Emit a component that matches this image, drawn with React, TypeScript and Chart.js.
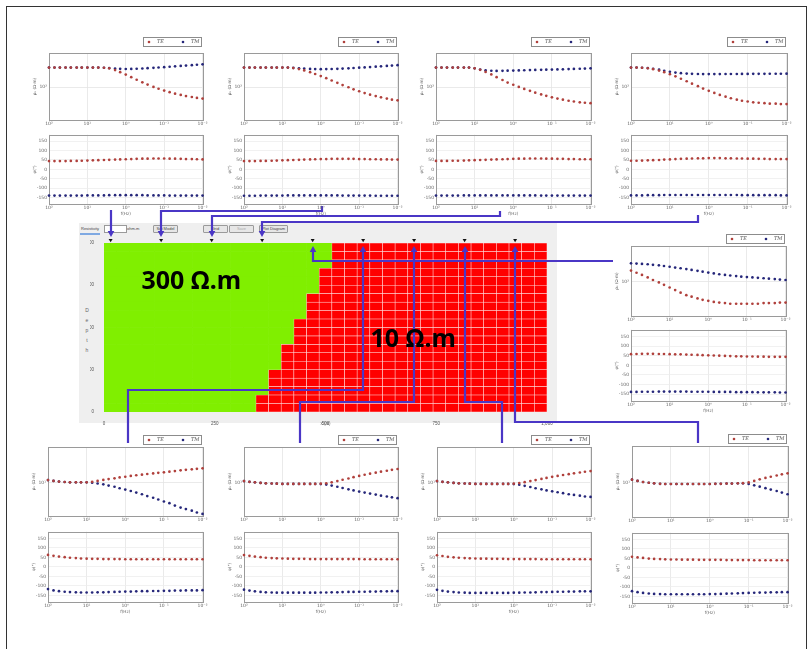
import React, { useEffect, useRef } from 'react';
import { Chart, registerables } from 'chart.js';

Chart.register(...registerables);

// ---------------- data ----------------
const FREQS = [100, 72, 52, 37, 27, 19, 14, 10, 7.2, 5.2, 3.7, 2.7, 1.9, 1.4, 1, 0.72, 0.52, 0.37, 0.27, 0.19, 0.14, 0.1, 0.072, 0.052, 0.037, 0.027, 0.019, 0.014, 0.01];
const FREQ_TICKS = [100, 10, 1, 0.1, 0.01];
const PHASE_TICKS = [-150, -100, -50, 0, 50, 100, 150];
const TOP_RHO_TICKS = [100];
const BOTTOM_RHO_TICKS = [10];

// station positions along the profile (m)
const STATIONS = [15, 129, 243, 357, 471, 585, 700, 814, 928];
const MODEL_X_TICKS = [0, 250, 500, 750, 1000];
const MODEL_Y_TICKS = [0, 1000, 2000, 3000, 4000];
const COLUMN_IDS = [1, 2, 3, 4, 5, 6, 7, 8, 9, 10, 11, 12, 13, 14, 15, 16, 17, 18, 19, 20, 21, 22, 23, 24, 25, 26, 27, 28, 29, 30, 31, 32, 33, 34, 35];
const ROW_THICKNESS = 200;
// number of 300 ohm-m columns in each model row, from the top row down
const GREEN_COLUMNS_BY_ROW = [18, 18, 18, 17, 17, 17, 16, 16, 16, 15, 15, 15, 14, 14, 14, 13, 13, 13, 12, 12];
const BLOCK_RES = 300;
const HOST_RES = 10;

// station 1 (top-left panel)
const P1_RHO_TE = [300, 300, 300, 300, 300, 300, 300, 300, 300, 300, 298, 288, 262, 232, 203, 176, 152, 132, 116, 102, 92, 83, 76, 70, 65, 61, 58, 55, 53];
const P1_RHO_TM = [300, 300, 300, 300, 300, 300, 300, 300, 300, 300, 298, 292, 285, 280, 278, 279, 282, 286, 291, 296, 302, 308, 315, 322, 329, 336, 344, 352, 360];
const P1_PHI_TE = [44, 44, 44, 44, 45, 45, 46, 47, 48, 49, 50, 51, 52, 53, 54, 55, 56, 57, 57, 58, 58, 58, 57, 57, 56, 55, 55, 54, 53];
const P1_PHI_TM = [-140, -140, -140, -140, -140, -140, -140, -139, -139, -139, -139, -138, -138, -138, -138, -138, -138, -138, -139, -139, -139, -139, -140, -140, -140, -140, -140, -140, -140];
// station 2
const P2_RHO_TE = [300, 300, 300, 300, 300, 300, 300, 300, 300, 292, 276, 256, 233, 210, 187, 166, 146, 128, 113, 100, 89, 80, 72, 66, 61, 57, 53, 50, 48];
const P2_RHO_TM = [300, 300, 300, 300, 300, 300, 300, 300, 300, 296, 290, 284, 279, 276, 275, 276, 278, 281, 285, 289, 294, 299, 304, 310, 316, 322, 329, 336, 344];
const P2_PHI_TE = [44, 44, 44, 45, 45, 46, 47, 48, 49, 50, 51, 52, 53, 54, 55, 55, 56, 56, 56, 56, 56, 55, 55, 54, 54, 53, 53, 52, 52];
const P2_PHI_TM = [-141, -141, -141, -140, -140, -140, -140, -140, -139, -139, -139, -139, -139, -139, -139, -139, -139, -139, -140, -140, -140, -140, -140, -140, -141, -141, -141, -141, -141];
// station 3
const P3_RHO_TE = [300, 300, 300, 300, 300, 300, 300, 288, 265, 236, 205, 176, 150, 130, 115, 102, 91, 82, 74, 67, 62, 57, 53, 50, 47, 45, 43, 42, 41];
const P3_RHO_TM = [300, 300, 300, 300, 300, 300, 300, 288, 270, 258, 252, 250, 251, 253, 255, 257, 259, 261, 263, 265, 267, 269, 271, 273, 276, 279, 282, 285, 288];
const P3_PHI_TE = [45, 45, 45, 46, 46, 47, 48, 49, 50, 51, 52, 53, 54, 55, 56, 57, 57, 58, 58, 58, 57, 57, 56, 56, 55, 55, 54, 54, 54];
const P3_PHI_TM = [-140, -140, -140, -140, -140, -139, -139, -139, -139, -139, -139, -139, -139, -139, -139, -139, -139, -139, -139, -140, -140, -140, -140, -140, -140, -140, -140, -140, -140];
// station 4
const P4_RHO_TE = [300, 300, 298, 290, 275, 255, 232, 208, 184, 161, 140, 122, 106, 93, 82, 73, 65, 59, 54, 50, 47, 45, 43, 42, 41, 40, 40, 39, 39];
const P4_RHO_TM = [300, 300, 298, 292, 282, 268, 252, 238, 228, 220, 215, 212, 210, 209, 209, 209, 209, 210, 210, 210, 211, 211, 212, 212, 212, 213, 213, 213, 214];
const P4_PHI_TE = [46, 46, 47, 48, 49, 50, 52, 53, 55, 56, 57, 58, 59, 59, 60, 60, 60, 59, 59, 58, 58, 57, 57, 56, 56, 55, 55, 55, 55];
const P4_PHI_TM = [-139, -139, -139, -138, -138, -138, -137, -137, -137, -137, -137, -137, -137, -137, -137, -137, -137, -137, -137, -137, -138, -138, -138, -138, -138, -138, -138, -139, -139];
// station 5 (right panel)
const P5_RHO_TE = [194, 171, 150, 129, 111, 96, 83, 71, 61, 52, 45, 41, 37, 34, 32, 30, 29, 28, 27, 27, 27, 27, 27, 27, 28, 28, 28, 29, 29];
const P5_RHO_TM = [300, 295, 289, 283, 274, 265, 255, 244, 233, 223, 212, 202, 192, 182, 173, 164, 156, 150, 145, 140, 135, 132, 129, 126, 123, 120, 117, 114, 111];
const P5_PHI_TE = [58, 59, 60, 60, 60, 59, 59, 58, 57, 57, 56, 55, 54, 53, 52, 51, 50, 49, 48, 47, 47, 46, 46, 45, 45, 44, 44, 44, 44];
const P5_PHI_TM = [-138, -138, -137, -137, -137, -136, -136, -136, -136, -136, -136, -137, -137, -137, -137, -138, -138, -138, -138, -139, -139, -139, -139, -140, -140, -140, -140, -141, -141];
// station 6 (bottom-left panel)
const P6_RHO_TE = [11.3, 10.8, 10.4, 10.2, 10.0, 10.0, 10.0, 10.0, 10.3, 10.8, 11.4, 11.9, 12.4, 13.0, 13.5, 14.1, 14.6, 15.1, 15.6, 16.1, 16.6, 17.1, 17.7, 18.3, 19.0, 19.5, 20.1, 20.6, 21.2];
const P6_RHO_TM = [11.3, 10.8, 10.4, 10.2, 10.0, 10.0, 10.0, 10.0, 9.8, 9.4, 9.0, 8.4, 7.9, 7.3, 6.8, 6.3, 5.8, 5.3, 4.8, 4.4, 4.0, 3.6, 3.3, 2.9, 2.6, 2.4, 2.2, 2.0, 1.85];
const P6_PHI_TE = [63, 58, 54, 51, 48, 46, 44, 43, 42, 42, 41, 41, 41, 41, 40, 40, 40, 40, 40, 40, 40, 40, 40, 40, 40, 40, 40, 40, 40];
const P6_PHI_TM = [-117, -124, -128, -131, -133, -134, -135, -135, -135, -134, -134, -133, -132, -131, -130, -130, -129, -128, -128, -127, -127, -126, -126, -125, -125, -124, -124, -124, -123];
// station 7
const P7_RHO_TE = [10.7, 10.3, 10.0, 9.7, 9.5, 9.4, 9.3, 9.2, 9.2, 9.2, 9.2, 9.2, 9.2, 9.2, 9.3, 9.5, 10.0, 10.7, 11.5, 12.3, 13.2, 14.1, 15.0, 15.9, 16.8, 17.7, 18.6, 19.5, 20.4];
const P7_RHO_TM = [10.7, 10.3, 10.0, 9.7, 9.5, 9.4, 9.3, 9.2, 9.2, 9.2, 9.2, 9.2, 9.2, 9.2, 9.1, 8.9, 8.4, 7.9, 7.4, 6.9, 6.5, 6.1, 5.8, 5.5, 5.2, 4.9, 4.7, 4.5, 4.3];
const P7_PHI_TE = [62, 58, 54, 51, 48, 46, 45, 44, 43, 42, 42, 42, 41, 41, 41, 41, 41, 41, 41, 41, 41, 41, 40, 40, 40, 40, 40, 40, 40];
const P7_PHI_TM = [-120, -125, -129, -132, -134, -135, -136, -136, -136, -136, -136, -136, -136, -136, -135, -135, -134, -134, -133, -132, -132, -131, -131, -130, -130, -129, -129, -128, -128];
// station 8
const P8_RHO_TE = [10.7, 10.3, 10.0, 9.7, 9.5, 9.4, 9.3, 9.2, 9.2, 9.2, 9.2, 9.2, 9.2, 9.2, 9.3, 9.6, 10.1, 10.7, 11.3, 12.0, 12.7, 13.4, 14.1, 14.8, 15.5, 16.2, 16.9, 17.6, 18.3];
const P8_RHO_TM = [10.7, 10.3, 10.0, 9.7, 9.5, 9.4, 9.3, 9.2, 9.2, 9.2, 9.2, 9.2, 9.2, 9.2, 9.1, 8.8, 8.3, 7.8, 7.3, 6.9, 6.5, 6.2, 5.9, 5.6, 5.3, 5.1, 4.9, 4.7, 4.6];
const P8_PHI_TE = [61, 57, 53, 50, 48, 46, 45, 44, 43, 43, 42, 42, 42, 41, 41, 41, 41, 41, 41, 40, 40, 40, 40, 40, 40, 40, 40, 40, 40];
const P8_PHI_TM = [-121, -126, -130, -133, -135, -136, -137, -137, -137, -137, -137, -137, -137, -137, -136, -136, -135, -135, -134, -133, -133, -132, -131, -131, -130, -130, -129, -129, -129];
// station 9 (bottom-right panel)
const P9_RHO_TE = [11.5, 10.8, 10.2, 9.8, 9.5, 9.3, 9.2, 9.2, 9.2, 9.2, 9.2, 9.2, 9.2, 9.2, 9.2, 9.3, 9.3, 9.4, 9.4, 9.5, 9.6, 10.0, 10.8, 11.7, 12.6, 13.4, 14.3, 15.2, 16.0];
const P9_RHO_TM = [11.5, 10.8, 10.2, 9.8, 9.5, 9.3, 9.2, 9.2, 9.2, 9.2, 9.2, 9.2, 9.2, 9.2, 9.2, 9.3, 9.3, 9.4, 9.4, 9.5, 9.5, 9.2, 8.6, 8.0, 7.4, 6.9, 6.4, 5.9, 5.4];
const P9_PHI_TE = [58, 55, 52, 49, 47, 46, 45, 44, 44, 43, 43, 43, 42, 42, 42, 42, 42, 41, 41, 41, 41, 41, 40, 40, 40, 40, 40, 40, 40];
const P9_PHI_TM = [-123, -128, -132, -135, -137, -138, -139, -139, -139, -139, -139, -139, -139, -139, -138, -138, -137, -136, -135, -134, -133, -132, -131, -130, -130, -129, -129, -128, -128];

const TOP_RHO_RANGE = [16, 680];
const RIGHT_RHO_RANGE = [13, 840];
const BOTTOM_RHO_RANGE = [1.66, 66];
const PHASE_RANGE = [-185, 185];

const PANELS = [
  { rhoTE: P1_RHO_TE, rhoTM: P1_RHO_TM, phiTE: P1_PHI_TE, phiTM: P1_PHI_TM, range: TOP_RHO_RANGE, ticks: TOP_RHO_TICKS },
  { rhoTE: P2_RHO_TE, rhoTM: P2_RHO_TM, phiTE: P2_PHI_TE, phiTM: P2_PHI_TM, range: TOP_RHO_RANGE, ticks: TOP_RHO_TICKS },
  { rhoTE: P3_RHO_TE, rhoTM: P3_RHO_TM, phiTE: P3_PHI_TE, phiTM: P3_PHI_TM, range: TOP_RHO_RANGE, ticks: TOP_RHO_TICKS },
  { rhoTE: P4_RHO_TE, rhoTM: P4_RHO_TM, phiTE: P4_PHI_TE, phiTM: P4_PHI_TM, range: TOP_RHO_RANGE, ticks: TOP_RHO_TICKS },
  { rhoTE: P5_RHO_TE, rhoTM: P5_RHO_TM, phiTE: P5_PHI_TE, phiTM: P5_PHI_TM, range: RIGHT_RHO_RANGE, ticks: TOP_RHO_TICKS },
  { rhoTE: P6_RHO_TE, rhoTM: P6_RHO_TM, phiTE: P6_PHI_TE, phiTM: P6_PHI_TM, range: BOTTOM_RHO_RANGE, ticks: BOTTOM_RHO_TICKS },
  { rhoTE: P7_RHO_TE, rhoTM: P7_RHO_TM, phiTE: P7_PHI_TE, phiTM: P7_PHI_TM, range: BOTTOM_RHO_RANGE, ticks: BOTTOM_RHO_TICKS },
  { rhoTE: P8_RHO_TE, rhoTM: P8_RHO_TM, phiTE: P8_PHI_TE, phiTM: P8_PHI_TM, range: BOTTOM_RHO_RANGE, ticks: BOTTOM_RHO_TICKS },
  { rhoTE: P9_RHO_TE, rhoTM: P9_RHO_TM, phiTE: P9_PHI_TE, phiTM: P9_PHI_TM, range: BOTTOM_RHO_RANGE, ticks: BOTTOM_RHO_TICKS },
];

// ---------------- layout & style ----------------
type Box = { x: number; w: number; rhoTop: number; rhoH: number; phiTop: number; phiH: number; legUp: number };
const PANEL_BOXES: Box[] = [
  { x: 49, w: 154, rhoTop: 53, rhoH: 67, phiTop: 134, phiH: 70, legUp: 16 },
  { x: 244, w: 154, rhoTop: 53, rhoH: 67, phiTop: 134, phiH: 70, legUp: 16 },
  { x: 436, w: 155, rhoTop: 53, rhoH: 67, phiTop: 134, phiH: 70, legUp: 16 },
  { x: 631, w: 156, rhoTop: 53, rhoH: 67, phiTop: 134, phiH: 70, legUp: 16 },
  { x: 631, w: 155, rhoTop: 246, rhoH: 70, phiTop: 329, phiH: 72, legUp: 12 },
  { x: 48, w: 155, rhoTop: 447, rhoH: 69, phiTop: 531, phiH: 71, legUp: 12 },
  { x: 244, w: 154, rhoTop: 447, rhoH: 69, phiTop: 531, phiH: 71, legUp: 12 },
  { x: 437, w: 154, rhoTop: 447, rhoH: 69, phiTop: 531, phiH: 71, legUp: 12 },
  { x: 632, w: 156, rhoTop: 446, rhoH: 71, phiTop: 532, phiH: 71, legUp: 12 },
];

// model plot area (px)
const MODEL_LEFT = 104;
const MODEL_RIGHT = 547;
const MODEL_TOP = 243;
const MODEL_BOTTOM = 412;

const TE_COLOR = '#b0403c';
const TM_COLOR = '#26277a';
const GREEN = '#80ef00';
const RED = '#ff0000';
const CELL_LINE = 'rgba(255,215,215,0.9)';
const LINK_COLOR = '#4a36c6';
const TICK_COLOR = '#666';
const GRID_COLOR = '#e4e4e4';
const TICK_FONT = { family: 'DejaVu Sans', size: 4.5 };
const TITLE_FONT = { family: 'DejaVu Sans', size: 4.2 };

const STATION_MARK_Y = 4070;
const DOWN_TIP_Y = 237;
const UP_TIP_Y = 246;
const CONNECTORS = [
  { station: 0, side: 'top', anchorX: -1, anchorY: 210, elbowY: 210 },
  { station: 1, side: 'top', anchorX: 322, anchorY: 206, elbowY: 211 },
  { station: 2, side: 'top', anchorX: 500, anchorY: 211, elbowY: 216 },
  { station: 3, side: 'top', anchorX: 698, anchorY: 215, elbowY: 222 },
  { station: 4, side: 'right', anchorX: 613, anchorY: 261, elbowY: 261 },
  { station: 5, side: 'bottom', anchorX: 128, anchorY: 443, elbowY: 390 },
  { station: 6, side: 'bottom', anchorX: 300, anchorY: 443, elbowY: 402 },
  { station: 7, side: 'bottom', anchorX: 502, anchorY: 443, elbowY: 402 },
  { station: 8, side: 'bottom', anchorX: 698, anchorY: 443, elbowY: 422 },
];
const MODEL_LABELS = [
  { text: `${BLOCK_RES} Ω.m`, x: 197, y: 3080 },
  { text: `${HOST_RES} Ω.m`, x: 698, y: 1700 },
];

const SUP: Record<string, string> = { '-': '⁻', '0': '⁰', '1': '¹', '2': '²', '3': '³', '4': '⁴', '5': '⁵', '6': '⁶', '7': '⁷', '8': '⁸', '9': '⁹' };
const decadeLabel = (v: number) => '10' + String(Math.round(Math.log10(v))).split('').map((c) => SUP[c]).join('');

const resColor = (r: number) => (r === BLOCK_RES ? GREEN : RED);

// ---------------- plugins ----------------
const framePlugin = {
  id: 'frame',
  beforeDatasetsDraw(chart: any) {
    const { ctx, chartArea: a } = chart;
    ctx.save();
    ctx.strokeStyle = '#9a9a9a';
    ctx.lineWidth = 1;
    ctx.strokeRect(Math.round(a.left) + 0.5, Math.round(a.top) + 0.5, Math.round(a.right - a.left), Math.round(a.bottom - a.top));
    ctx.restore();
  },
};

const boxLegendPlugin = {
  id: 'boxLegend',
  afterDraw(chart: any, _args: any, opts: any) {
    if (!opts || !opts.show) return;
    const { ctx, chartArea: a } = chart;
    const w = opts.w, h = opts.h;
    const x0 = Math.round(a.right - opts.right - w);
    const y0 = Math.round(a.top - opts.up);
    ctx.save();
    ctx.fillStyle = '#fff';
    ctx.fillRect(x0, y0, w, h);
    ctx.strokeStyle = '#8c8c8c';
    ctx.lineWidth = 1;
    ctx.strokeRect(x0 + 0.5, y0 + 0.5, w, h);
    chart.data.datasets.forEach((ds: any, i: number) => {
      const cx = x0 + 6 + i * 34;
      const cy = y0 + h / 2 + 0.5;
      ctx.fillStyle = ds.backgroundColor;
      ctx.beginPath();
      ctx.arc(cx, cy, 1.3, 0, Math.PI * 2);
      ctx.fill();
      ctx.fillStyle = '#555';
      ctx.font = 'italic 5px "DejaVu Serif"';
      ctx.textBaseline = 'middle';
      ctx.textAlign = 'left';
      ctx.fillText(ds.label, cx + 8, cy);
    });
    ctx.restore();
  },
};

function arrowHead(ctx: CanvasRenderingContext2D, x: number, tipY: number, dir: number) {
  const L = 6, W = 3.3;
  ctx.beginPath();
  ctx.moveTo(x, tipY);
  ctx.lineTo(x - W, tipY - dir * L);
  ctx.lineTo(x + W, tipY - dir * L);
  ctx.closePath();
  ctx.fill();
}

const connectorPlugin = {
  id: 'connectors',
  afterDraw(chart: any) {
    const { ctx } = chart;
    const xs = chart.scales.x2;
    ctx.save();
    ctx.strokeStyle = LINK_COLOR;
    ctx.fillStyle = LINK_COLOR;
    ctx.lineWidth = 2.2;
    ctx.lineJoin = 'miter';
    CONNECTORS.forEach((c) => {
      const sx = Math.round(xs.getPixelForValue(STATIONS[c.station]));
      ctx.beginPath();
      if (c.side === 'top') {
        const ax = c.anchorX < 0 ? sx : c.anchorX;
        ctx.moveTo(ax, c.anchorY);
        ctx.lineTo(ax, c.elbowY);
        ctx.lineTo(sx, c.elbowY);
        ctx.lineTo(sx, DOWN_TIP_Y - 4);
        ctx.stroke();
        arrowHead(ctx, sx, DOWN_TIP_Y, 1);
      } else if (c.side === 'right') {
        ctx.moveTo(c.anchorX, c.anchorY);
        ctx.lineTo(sx, c.elbowY);
        ctx.lineTo(sx, UP_TIP_Y + 4);
        ctx.stroke();
        arrowHead(ctx, sx, UP_TIP_Y, -1);
      } else {
        ctx.moveTo(sx, UP_TIP_Y + 4);
        ctx.lineTo(sx, c.elbowY);
        ctx.lineTo(c.anchorX, c.elbowY);
        ctx.lineTo(c.anchorX, c.anchorY);
        ctx.stroke();
        arrowHead(ctx, sx, UP_TIP_Y, -1);
      }
    });
    ctx.fillStyle = '#000';
    ctx.font = 'bold 25px "Noto Sans"';
    ctx.textAlign = 'center';
    ctx.textBaseline = 'middle';
    MODEL_LABELS.forEach((l) => {
      ctx.fillText(l.text, xs.getPixelForValue(l.x), chart.scales.y.getPixelForValue(l.y));
    });
    ctx.restore();
  },
};

// ---------------- components ----------------
function SmallPlot(props: { kind: 'rho' | 'phi'; box: Box; te: number[]; tm: number[]; range: number[]; ticks: number[] }) {
  const { kind, box, te, tm, range, ticks } = props;
  const ref = useRef<HTMLCanvasElement>(null);
  const isRho = kind === 'rho';
  const AXW = 17;
  const PADR = 6;
  const padTop = isRho ? 18 : 4;
  const xAxisH = isRho ? 9 : 12;
  const plotTop = isRho ? box.rhoTop : box.phiTop;
  const plotH = isRho ? box.rhoH : box.phiH;
  const left = box.x - AXW;
  const top = plotTop - padTop;
  const width = box.w + AXW + PADR;
  const height = padTop + plotH + xAxisH;

  useEffect(() => {
    const mk = (vals: number[]) => FREQS.map((f, i) => ({ x: f, y: vals[i] }));
    const yScale: any = isRho
      ? {
          type: 'logarithmic',
          min: range[0],
          max: range[1],
          afterBuildTicks: (s: any) => { s.ticks = ticks.map((v) => ({ value: v })); },
          afterFit: (s: any) => { s.width = AXW; },
          ticks: { callback: (v: any) => decadeLabel(Number(v)), font: TICK_FONT, color: TICK_COLOR, padding: 2 },
          grid: { color: GRID_COLOR, lineWidth: 0.8, drawTicks: false },
          border: { display: false },
          title: { display: true, text: 'ρₐ (Ω·m)', font: TITLE_FONT, color: TICK_COLOR, padding: 0 },
        }
      : {
          type: 'linear',
          min: PHASE_RANGE[0],
          max: PHASE_RANGE[1],
          afterBuildTicks: (s: any) => { s.ticks = PHASE_TICKS.map((v) => ({ value: v })); },
          afterFit: (s: any) => { s.width = AXW; },
          ticks: { font: TICK_FONT, color: TICK_COLOR, padding: 2 },
          grid: { color: '#ededed', lineWidth: 0.8, drawTicks: false },
          border: { display: false },
          title: { display: true, text: 'φ(°)', font: TITLE_FONT, color: TICK_COLOR, padding: 0 },
        };
    const chart = new Chart(ref.current as HTMLCanvasElement, {
      type: 'scatter',
      data: {
        datasets: [
          { label: 'TE', data: mk(te), backgroundColor: TE_COLOR, borderColor: TE_COLOR, pointRadius: 1.35, pointBorderWidth: 0, pointHoverRadius: 0, clip: false } as any,
          { label: 'TM', data: mk(tm), backgroundColor: TM_COLOR, borderColor: TM_COLOR, pointRadius: 1.35, pointBorderWidth: 0, pointHoverRadius: 0, clip: false } as any,
        ],
      },
      options: {
        animation: false,
        responsive: false,
        maintainAspectRatio: false,
        events: [],
        layout: { padding: { top: padTop, right: PADR, left: 0, bottom: 0 } },
        plugins: {
          legend: { display: false },
          tooltip: { enabled: false },
          boxLegend: { show: isRho, up: box.legUp, w: 58, h: 9, right: 2 },
        } as any,
        scales: {
          x: {
            type: 'logarithmic',
            reverse: true,
            min: 0.01,
            max: 100,
            afterBuildTicks: (s: any) => { s.ticks = FREQ_TICKS.map((v) => ({ value: v })); },
            afterFit: (s: any) => { s.height = xAxisH; },
            ticks: { callback: (v: any) => decadeLabel(Number(v)), font: TICK_FONT, color: TICK_COLOR, padding: 1.5, maxRotation: 0, autoSkip: false },
            grid: { color: GRID_COLOR, lineWidth: 0.8, drawTicks: false },
            border: { display: false },
            title: { display: !isRho, text: 'f(Hz)', font: TITLE_FONT, color: TICK_COLOR, padding: 0 },
          } as any,
          y: yScale,
        },
      },
      plugins: [framePlugin, boxLegendPlugin],
    });
    return () => chart.destroy();
  }, []);

  return (
    <canvas
      ref={ref}
      width={width}
      height={height}
      style={{ position: 'absolute', left, top, width, height, zIndex: 2 }}
    />
  );
}

function ModelChart() {
  const ref = useRef<HTMLCanvasElement>(null);
  useEffect(() => {
    const cellWidth = (MODEL_RIGHT - MODEL_LEFT) / COLUMN_IDS.length;
    const rowsBottomUp = GREEN_COLUMNS_BY_ROW.slice().reverse();
    const datasets: any[] = rowsBottomUp.map((greenCols, r) => ({
      type: 'bar',
      label: `layer ${r + 1}`,
      data: COLUMN_IDS.map(() => ROW_THICKNESS),
      xAxisID: 'x',
      yAxisID: 'y',
      backgroundColor: COLUMN_IDS.map((_, c) => resColor(c < greenCols ? BLOCK_RES : HOST_RES)),
      borderColor: COLUMN_IDS.map((_, c) => (c < greenCols ? 'rgba(0,0,0,0)' : CELL_LINE)),
      borderWidth: COLUMN_IDS.map((_, c) => (c < greenCols ? 0 : 0.6)),
      borderSkipped: false,
      grouped: false,
      barThickness: cellWidth,
      barPercentage: 1,
      categoryPercentage: 1,
    }));
    datasets.push({
      type: 'scatter',
      label: 'stations',
      xAxisID: 'x2',
      yAxisID: 'y',
      data: STATIONS.map((s) => ({ x: s, y: STATION_MARK_Y })),
      pointStyle: 'triangle',
      rotation: 180,
      pointRadius: 2.3,
      pointBorderWidth: 0,
      backgroundColor: '#111',
      borderColor: '#111',
      clip: false,
    });
    const chart = new Chart(ref.current as HTMLCanvasElement, {
      type: 'bar',
      data: { labels: COLUMN_IDS.map(String), datasets },
      options: {
        animation: false,
        responsive: false,
        maintainAspectRatio: false,
        events: [],
        layout: { padding: { left: MODEL_LEFT - 14, right: 812 - MODEL_RIGHT, top: MODEL_TOP, bottom: 649 - MODEL_BOTTOM - 14 } },
        plugins: { legend: { display: false }, tooltip: { enabled: false } },
        scales: {
          x: { type: 'category', display: false, stacked: true, offset: true, grid: { display: false, offset: true } },
          x2: {
            type: 'linear',
            position: 'bottom',
            offset: false,
            min: 0,
            max: 1000,
            afterBuildTicks: (s: any) => { s.ticks = MODEL_X_TICKS.map((v) => ({ value: v })); },
            afterFit: (s: any) => { s.height = 14; },
            grid: { display: false, offset: false },
            border: { display: false },
            ticks: { font: { family: 'Liberation Sans', size: 4.5 }, color: '#555', padding: 1, maxRotation: 0, autoSkip: false },
            title: { display: true, text: 'x (m)', font: { family: 'Liberation Sans', size: 4.5 }, color: '#666', padding: 0 },
          } as any,
          y: {
            type: 'linear',
            stacked: true,
            min: 0,
            max: 4000,
            afterBuildTicks: (s: any) => { s.ticks = MODEL_Y_TICKS.map((v) => ({ value: v })); },
            afterFit: (s: any) => { s.width = 14; },
            grid: { display: false },
            border: { display: false },
            ticks: { font: { family: 'Liberation Sans', size: 4.5 }, color: '#555', padding: 2 },
          } as any,
        },
      },
      plugins: [connectorPlugin],
    });
    return () => chart.destroy();
  }, []);
  return (
    <canvas ref={ref} width={812} height={649} style={{ position: 'absolute', left: 0, top: 0, width: 812, height: 649, zIndex: 1 }} />
  );
}

const guiText: React.CSSProperties = { position: 'absolute', fontFamily: 'Liberation Sans', fontSize: 4, color: '#444', lineHeight: '6px', whiteSpace: 'nowrap' };
const guiBtn: React.CSSProperties = {
  position: 'absolute', top: 225, height: 6, border: '1px solid #9a9a9a', background: '#e6e6e6', borderRadius: 1,
  fontFamily: 'Liberation Sans', fontSize: 4, color: '#444', lineHeight: '6px', textAlign: 'center', whiteSpace: 'nowrap', overflow: 'hidden',
};

export default function App() {
  return (
    <div style={{ position: 'absolute', left: 0, top: 0, width: 812, height: 649, overflow: 'hidden', background: '#fff' }}>
      <div style={{ position: 'absolute', left: 6, top: 6, width: 799, height: 700, border: '1px solid #333', zIndex: 0 }} />
      <div style={{ position: 'absolute', left: 79, top: 223, width: 478, height: 200, background: '#efefef', zIndex: 0 }}>
        <div style={{ ...guiText, left: 2, top: 3 }}>Resistivity</div>
        <div style={{ position: 'absolute', left: 1, top: 10, width: 20, height: 1.5, background: '#7fa9e2' }} />
        <div style={{ position: 'absolute', left: 25, top: 2, width: 21, height: 6, border: '1px solid #9a9a9a', background: '#fff' }} />
        <div style={{ ...guiText, left: 48, top: 3 }}>ohm-m</div>
        <div style={{ ...guiBtn, top: 2, left: 74, width: 23 }}>Set Model</div>
        <div style={{ ...guiBtn, top: 2, left: 124, width: 23 }}>Grid</div>
        <div style={{ ...guiBtn, top: 2, left: 150, width: 23, color: '#aaa' }}>Save</div>
        <div style={{ ...guiBtn, top: 2, left: 180, width: 27 }}>Plot Diagram</div>
        <div style={{ position: 'absolute', left: 5, top: 82, width: 6, fontFamily: 'Liberation Sans', fontSize: 5, lineHeight: '10px', color: '#666', textAlign: 'center' }}>
          {'Depth'.split('').map((ch, i) => (
            <div key={i}>{ch}</div>
          ))}
        </div>
      </div>
      <ModelChart />
      {PANEL_BOXES.map((box, i) => (
        <React.Fragment key={i}>
          <SmallPlot kind="rho" box={box} te={PANELS[i].rhoTE} tm={PANELS[i].rhoTM} range={PANELS[i].range} ticks={PANELS[i].ticks} />
          <SmallPlot kind="phi" box={box} te={PANELS[i].phiTE} tm={PANELS[i].phiTM} range={PHASE_RANGE} ticks={PHASE_TICKS} />
        </React.Fragment>
      ))}
    </div>
  );
}
